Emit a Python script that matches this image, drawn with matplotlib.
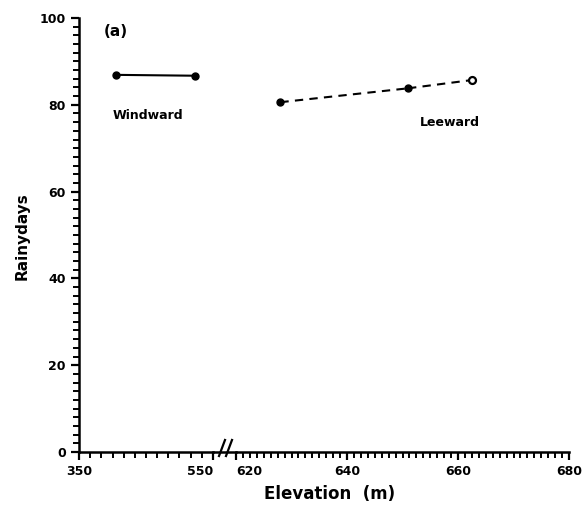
import matplotlib
matplotlib.use("Agg")
import matplotlib.pyplot as plt
import numpy as np

# Data
windward_elev = [405, 523]
windward_days = [86.9, 86.7]
leeward_elev = [628, 651, 662.5]
leeward_days = [80.6, 83.8, 85.7]
y_ticks = [0, 20, 40, 60, 80, 100]
left_xticks = [350, 550]
right_xticks = [620, 640, 660, 680]

W, H = 586, 513
fig = plt.figure(figsize=(W / 100, H / 100), dpi=100)

def fx(px):
    return px / W

def fy(py):
    return 1 - py / H

x0, xb, xc, x1 = 79, 213, 236, 569
ytop, ybot = 18, 452
ax1 = fig.add_axes([fx(x0), fy(ybot), fx(xb - x0), fy(ytop) - fy(ybot)])
ax2 = fig.add_axes([fx(xc), fy(ybot), fx(x1 - xc), fy(ytop) - fy(ybot)])

tfont = dict(fontsize=9, fontweight='bold', family='DejaVu Sans')
for ax in (ax1, ax2):
    ax.set_ylim(0, 100)
    for s in ('top', 'right'):
        ax.spines[s].set_visible(False)
    ax.spines['bottom'].set_linewidth(1.8)
    ax.spines['left'].set_linewidth(1.8)
    ax.tick_params(which='major', length=6, width=1.6, direction='out')
    ax.tick_params(which='minor', length=4, width=1.4, direction='out')
    ax.patch.set_alpha(0)

ax1.set_xlim(350, 550)
ax1.set_xticks(left_xticks)
ax1.set_xticks(np.linspace(350, 550, 13), minor=True)
ax1.set_yticks(y_ticks)
ax1.set_yticks(np.arange(0, 101, 2), minor=True)
ax1.set_xticklabels([str(v) for v in left_xticks], **tfont)
ax1.set_yticklabels([str(v) for v in y_ticks], **tfont)
ax1.get_xticklabels()[1].set_horizontalalignment('right')
ax1.get_xticklabels()[1].set_x(548)

ax2.set_xlim(620, 680)
ax2.set_xticks(right_xticks)
ax2.set_xticks(np.arange(620, 680.01, 1.25), minor=True)
ax2.set_xticklabels([str(v) for v in right_xticks], **tfont)
ax2.get_xticklabels()[0].set_horizontalalignment('left')
ax2.spines['left'].set_visible(False)
ax2.set_yticks([])
ax2.spines['bottom'].set_bounds(620, 680)

# Data lines
ax1.plot(windward_elev, windward_days, '-', color='black', lw=1.5,
         marker='o', ms=5, clip_on=False)
ax2.plot(leeward_elev[:2], leeward_days[:2], '--', color='black', lw=1.5,
         marker='o', ms=5, dashes=(4, 3))
ax2.plot(leeward_elev[1:], leeward_days[1:], '--', color='black', lw=1.5,
         dashes=(4, 3))
ax2.plot([leeward_elev[2]], [leeward_days[2]], 'o', mfc='white', mec='black',
         mew=1.6, ms=5)

ax1.text(453, 77.5, 'Windward', ha='center', va='center', fontsize=9,
         fontweight='bold')
ax2.text(658.5, 76, 'Leeward', ha='center', va='center', fontsize=9,
         fontweight='bold')
ax1.text(405, 97, '(a)', ha='center', va='center', fontsize=11,
         fontweight='bold')

# Bridge of x-axis and break marks
fig.add_artist(plt.Line2D([fx(xb), fx(xc)], [fy(ybot), fy(ybot)],
                          color='black', lw=1.8))
for dx in (222, 229):
    fig.add_artist(plt.Line2D([fx(dx - 3), fx(dx + 3)],
                              [fy(ybot + 4), fy(ybot - 12)],
                              color='black', lw=1.6))

fig.text(fx(330), fy(494), 'Elevation  (m)', ha='center', va='center',
         fontsize=12, fontweight='bold')
fig.text(fx(22), fy(236), 'Rainydays', ha='center', va='center',
         fontsize=11, fontweight='bold', rotation=90)

fig.savefig('out.png', dpi=100)
